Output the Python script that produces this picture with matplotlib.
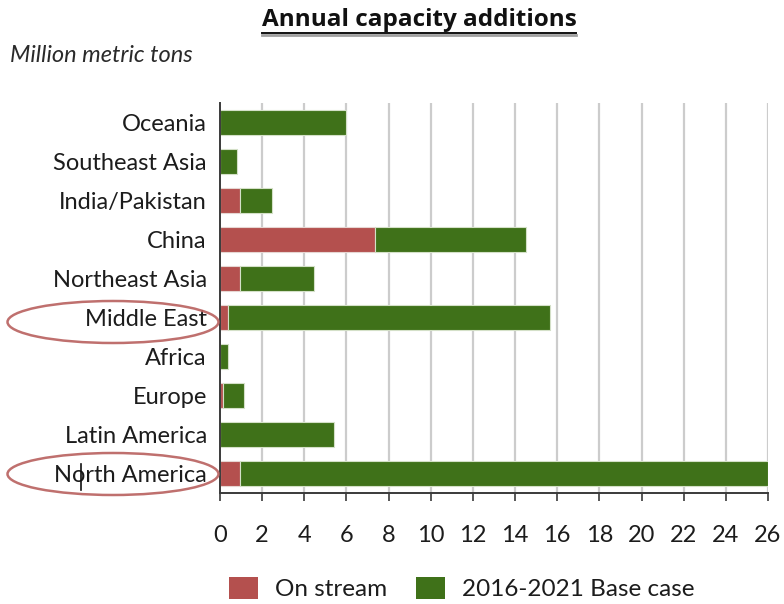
import matplotlib
matplotlib.use("Agg")
import matplotlib.pyplot as plt
from matplotlib.patches import Ellipse, Patch
from matplotlib.lines import Line2D

# Regions, listed from bottom to top of the chart
regions = ["North America", "Latin America", "Europe", "Africa", "Middle East",
           "Northeast Asia", "China", "India/Pakistan", "Southeast Asia", "Oceania"]
# Million metric tons
on_stream = [0.93, 0.0, 0.12, 0.0, 0.40, 0.93, 7.34, 0.93, 0.0, 0.0]
base_case = [25.07, 5.39, 1.00, 0.40, 15.25, 3.51, 7.16, 1.56, 0.83, 5.96]
xticks = list(range(0, 27, 2))

RED = "#B4504E"
GREEN = "#3F7119"
FONT = "Lato"
TXT = "#1c1c1c"

fig = plt.figure(figsize=(7.84, 6.04), dpi=100)
ax = fig.add_axes([220 / 784, 1 - 493 / 604, 548 / 784, 390 / 604])

y = list(range(len(regions)))
ax.barh(y, on_stream, height=0.64, color=RED, edgecolor="#e6d6d2", linewidth=0.8, zorder=3)
ax.barh(y, base_case, left=on_stream, height=0.64, color=GREEN, edgecolor="#d4e0c8",
        linewidth=0.8, zorder=3)

ax.set_xlim(0, 26)
ax.set_ylim(-0.5, len(regions) - 0.5)
ax.set_xticks(xticks)
ax.set_xticklabels([str(t) for t in xticks], fontfamily=FONT, fontsize=17, color=TXT)
ax.set_yticks(y)
ax.set_yticklabels(regions, fontfamily=FONT, fontsize=17, color=TXT)
ax.tick_params(axis="y", length=0, pad=9.5)
ax.tick_params(axis="x", direction="out", length=6, width=1.2, color="#3a3a3a", pad=17)

for t in xticks[1:]:
    ax.axvline(t, color="#cccccc", linewidth=1.6, zorder=1)

for side in ("top", "right"):
    ax.spines[side].set_visible(False)
for side in ("left", "bottom"):
    ax.spines[side].set_color("#3a3a3a")
    ax.spines[side].set_linewidth(1.4)
    ax.spines[side].set_zorder(4)

# Annotation layer in pixel coordinates
ov = fig.add_axes([0, 0, 1, 1], facecolor="none")
ov.set_xlim(0, 784)
ov.set_ylim(604, 0)
ov.axis("off")

title = ov.text(419, 20, "Annual capacity additions", fontfamily="Open Sans",
                fontweight="bold", fontsize=17.5, ha="center", va="center", color="#111111")
fig.canvas.draw()
bb = title.get_window_extent().transformed(ov.transData.inverted())
x0, x1 = min(bb.x0, bb.x1), max(bb.x0, bb.x1)
ov.add_line(Line2D([x0, x1], [34.5, 34.5], color="#a0a0a0", linewidth=2.0))
ov.add_line(Line2D([x0, x1], [32.5, 32.5], color="#111111", linewidth=1.4))
ov.text(10, 55, "Million metric tons", fontfamily=FONT, fontstyle="italic",
        fontsize=17, ha="left", va="center", color="#2a2a2a")

for cy in (322, 474):
    ov.add_patch(Ellipse((113, cy), 211, 42, fill=False, edgecolor="#b8605e",
                         linewidth=1.8, alpha=0.9))
ov.add_line(Line2D([81, 81], [464, 490], color="#111111", linewidth=1.2))

handles = [Patch(facecolor=RED, edgecolor="none", label="On stream"),
           Patch(facecolor=GREEN, edgecolor="none", label="2016-2021 Base case")]
fig.legend(handles=handles, loc="lower center", bbox_to_anchor=(0.589, 0.0), ncol=2,
           frameon=False, prop={"family": FONT, "size": 17.5}, handlelength=1.2,
           handleheight=1.0, handletextpad=0.7, columnspacing=1.15, labelcolor=TXT,
           borderaxespad=0.0, borderpad=0.15)

fig.savefig("out.png", dpi=100)
